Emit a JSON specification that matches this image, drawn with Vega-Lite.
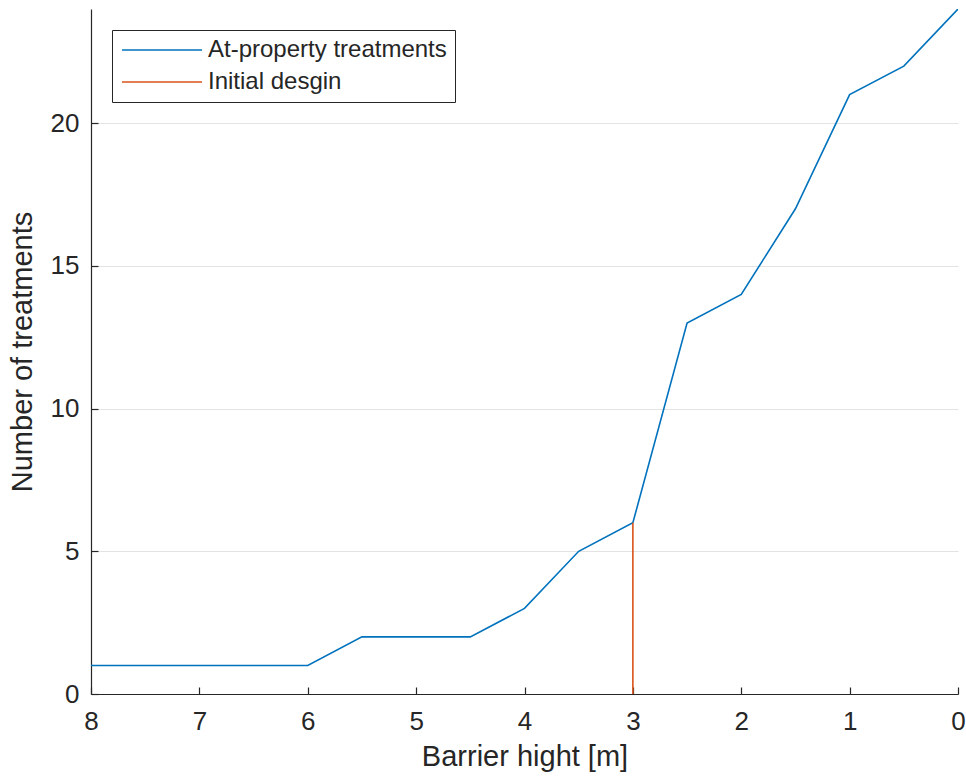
{
  "$schema": "https://vega.github.io/schema/vega-lite/v6.json",
  "width": 867,
  "height": 685,
  "autosize": {"type": "none"},
  "padding": {"left": 91, "top": 9, "right": 8, "bottom": 87},
  "background": "white",
  "config": {
    "view": {"stroke": null},
    "font": "Liberation Sans",
    "axis": {
      "domainColor": "#262626",
      "tickColor": "#262626",
      "labelColor": "#262626",
      "titleColor": "#262626",
      "labelFont": "Liberation Sans",
      "titleFont": "Liberation Sans",
      "labelFontSize": 26,
      "titleFontSize": 29,
      "titleFontWeight": "normal",
      "tickSize": -7,
      "domainWidth": 1.2,
      "tickWidth": 1.2,
      "gridColor": "#e3e3e3",
      "gridWidth": 1
    }
  },
  "data": {
    "values": [
      {"h": 8, "n": 1, "series": "At-property treatments"},
      {"h": 7.5, "n": 1, "series": "At-property treatments"},
      {"h": 7, "n": 1, "series": "At-property treatments"},
      {"h": 6.5, "n": 1, "series": "At-property treatments"},
      {"h": 6, "n": 1, "series": "At-property treatments"},
      {"h": 5.5, "n": 2, "series": "At-property treatments"},
      {"h": 5, "n": 2, "series": "At-property treatments"},
      {"h": 4.5, "n": 2, "series": "At-property treatments"},
      {"h": 4, "n": 3, "series": "At-property treatments"},
      {"h": 3.5, "n": 5, "series": "At-property treatments"},
      {"h": 3, "n": 6, "series": "At-property treatments"},
      {"h": 2.5, "n": 13, "series": "At-property treatments"},
      {"h": 2, "n": 14, "series": "At-property treatments"},
      {"h": 1.5, "n": 17, "series": "At-property treatments"},
      {"h": 1, "n": 21, "series": "At-property treatments"},
      {"h": 0.5, "n": 22, "series": "At-property treatments"},
      {"h": 0, "n": 24, "series": "At-property treatments"},
      {"h": 3, "n": 0, "series": "Initial desgin"},
      {"h": 3, "n": 6, "series": "Initial desgin"}
    ]
  },
  "mark": {"type": "line", "strokeWidth": 1.6, "clip": true},
  "encoding": {
    "x": {
      "field": "h",
      "type": "quantitative",
      "title": "Barrier hight [m]",
      "scale": {"domain": [8, 0], "nice": false, "zero": false},
      "axis": {"values": [0, 1, 2, 3, 4, 5, 6, 7, 8], "grid": false, "labelPadding": 21, "titlePadding": 8, "labelFlush": false}
    },
    "y": {
      "field": "n",
      "type": "quantitative",
      "title": "Number of treatments",
      "scale": {"domain": [0, 24], "nice": false},
      "axis": {"values": [0, 5, 10, 15, 20], "grid": true, "labelPadding": 19, "titlePadding": 13, "labelFlush": false}
    },
    "order": {"field": "n", "type": "quantitative"},
    "color": {
      "field": "series",
      "type": "nominal",
      "scale": {"domain": ["At-property treatments", "Initial desgin"], "range": ["#0072BD", "#D95319"]},
      "legend": {
        "title": null,
        "orient": "none",
        "legendX": 21,
        "legendY": 21,
        "symbolType": "M-1,0H7",
        "symbolSize": 400,
        "symbolStrokeWidth": 1.5,
        "labelFontSize": 24,
        "labelFont": "Liberation Sans",
        "labelColor": "#262626",
        "labelOffset": 64,
        "labelLimit": 500,
        "rowPadding": 8,
        "padding": 8,
        "fillColor": "white",
        "strokeColor": "#262626",
        "cornerRadius": 0
      }
    }
  }
}
